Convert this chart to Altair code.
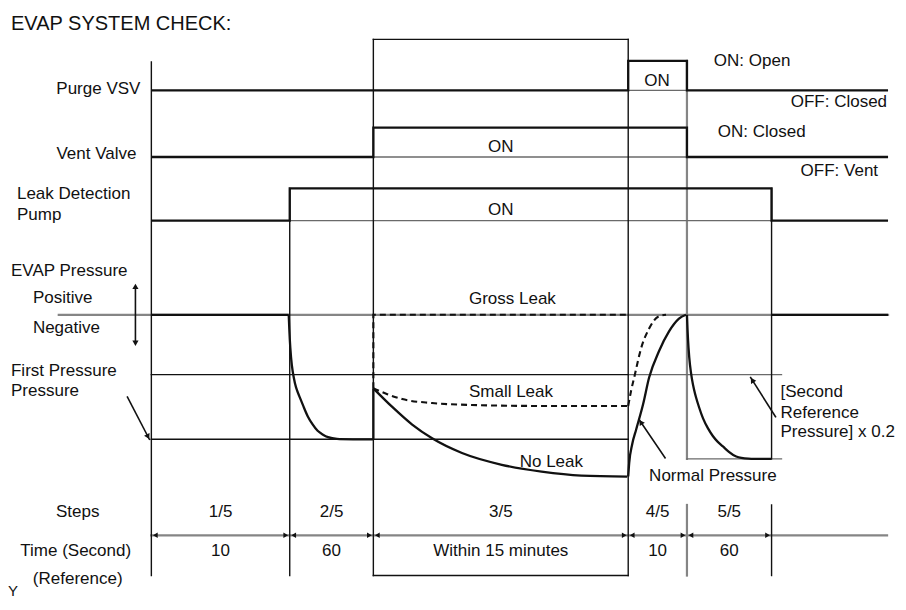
import math
import altair as alt
import pandas as pd

# ---------------- data (diagram units) ----------------
BOUNDS = [148, 287, 371, 627, 686, 771]          # step boundaries on the time axis
END_X = 888                                       # right end of the traces
STEP_LABELS = ["1/5", "2/5", "3/5", "4/5", "5/5"]
TIME_LABELS = ["10", "60", "Within 15 minutes", "10", "60"]

# on / off levels of the three actuator signals and their on-interval
PURGE_LEVELS = [87, 57]
PURGE_ON = [627, 686]
VENT_LEVELS = [155, 125]
VENT_ON = [371, 686]
PUMP_LEVELS = [220, 187]
PUMP_ON = [287, 771]

# pressure reference levels
P_ZERO = 316
P_REF_HI = 377
P_FIRST = 443
P_SECOND = 463

# pressure curves
PUMPDOWN_X = [286, 286.5, 287.5, 289, 291, 293, 297, 301, 305, 310, 315, 320, 325, 333, 350, 371]
PUMPDOWN_Y = [316, 330, 350, 368, 380, 390, 400, 410, 420, 428, 435, 438, 441, 443, 443, 443]
NOLEAK_X = [371, 390, 410, 430, 460, 500, 540, 580, 626]
NOLEAK_Y = [391, 410, 428, 442, 457, 469, 476, 480, 481]
SMALL_X = [371, 385, 400, 430, 470, 540, 626]
SMALL_Y = [391, 397, 402, 406, 408, 409, 409]
RISE_X = [627, 628, 631, 635, 642, 648, 658, 668, 678, 685]
RISE_Y = [481, 467, 448, 433, 407, 380, 353, 333, 320, 316]
SMALL_RISE_X = [627, 630, 633, 640, 648, 657, 665]
SMALL_RISE_Y = [409, 393, 380, 350, 330, 318, 316]
DROP_X = [686, 686.5, 687.5, 689, 691, 693, 695, 698, 702, 707, 712, 717, 722, 728, 735, 745, 771]
DROP_Y = [316, 330, 350, 368, 382, 392, 400, 410, 422, 432, 440, 446, 450, 456, 461, 463, 463]

# ---------------- layout ----------------
FONT = "Liberation Sans"
BLACK = "#111111"
GREY = "#858585"
TOP_BOX = 35
TOP_AXIS = 58
BOTTOM = 582
SEP_TOP = 510
ARROW_Y = 541
STEP_Y = 517.5
TIME_Y = 557

xs = alt.Scale(domain=[4, 898], nice=False, zero=False)
ys = alt.Scale(domain=[3, 609], nice=False, zero=False, reverse=True)
X = alt.X("x:Q", scale=xs, axis=None)
Y = alt.Y("y:Q", scale=ys, axis=None)


def rules(rows, color, width, dash=None):
    df = pd.DataFrame(rows, columns=["x", "y", "x2", "y2"])
    kw = dict(color=color, strokeWidth=width, strokeCap="square")
    if dash:
        kw["strokeDash"] = dash
        kw["strokeCap"] = "butt"
    return alt.Chart(df).mark_rule(**kw).encode(x=X, y=Y, x2="x2:Q", y2="y2:Q")


def path(px, py, color, width, interp="linear", dash=None):
    df = pd.DataFrame({"x": px, "y": py, "i": list(range(len(px)))})
    kw = dict(color=color, strokeWidth=width, interpolate=interp, strokeJoin="miter")
    if dash:
        kw["strokeDash"] = dash
    return alt.Chart(df).mark_line(**kw).encode(x=X, y=Y, order="i:Q")


def texts(rows, align, size=17, color=BLACK):
    df = pd.DataFrame(rows, columns=["x", "y", "t"])
    return alt.Chart(df).mark_text(
        align=align, baseline="middle", fontSize=size, font=FONT, color=color
    ).encode(x=X, y=Y, text="t:N")


def heads(rows, size=38):
    # rows: (tip_x, tip_y, from_x, from_y)
    out = []
    for tx, ty, fx, fy in rows:
        dx, dy = tx - fx, ty - fy
        d = math.hypot(dx, dy)
        ux, uy = dx / d, dy / d
        ang = math.degrees(math.atan2(dx, -dy)) % 360
        out.append({"x": tx - 3 * ux, "y": ty - 3 * uy, "a": ang})
    df = pd.DataFrame(out)
    return alt.Chart(df).mark_point(
        shape="triangle-up", filled=True, size=size, color=BLACK, opacity=1, strokeWidth=0
    ).encode(x=X, y=Y, angle=alt.Angle("a:Q", scale=None))


def signal(levels, on):
    lo, hi = levels
    a, b = on
    return path([BOUNDS[0], a, a, b, b, END_X], [lo, lo, hi, hi, lo, lo], BLACK, 2.3)


layers = []

# grey background lines
layers.append(rules([
    (55, P_ZERO, END_X, P_ZERO),
    (BOUNDS[4], PURGE_LEVELS[1], BOUNDS[4], P_SECOND),
    (BOUNDS[4], SEP_TOP, BOUNDS[4], BOTTOM),
    (BOUNDS[0], ARROW_Y, END_X - 1, ARROW_Y),
], GREY, 2.2))
layers.append(rules([
    (PURGE_ON[0], PURGE_LEVELS[0], PURGE_ON[1], PURGE_LEVELS[0]),
    (VENT_ON[0], VENT_LEVELS[0], VENT_ON[1], VENT_LEVELS[0]),
    (PUMP_ON[0], PUMP_LEVELS[0], PUMP_ON[1], PUMP_LEVELS[0]),
    (BOUNDS[3], P_REF_HI, 781, P_REF_HI),
    (BOUNDS[4], P_SECOND, 781, P_SECOND),
], "#6a6a6a", 1.3))

# thin black frame lines
layers.append(rules([
    (BOUNDS[0], TOP_AXIS, BOUNDS[0], BOTTOM),
    (BOUNDS[2], TOP_BOX, BOUNDS[3], TOP_BOX),
    (BOUNDS[2], TOP_BOX, BOUNDS[2], BOTTOM),
    (BOUNDS[3], TOP_BOX, BOUNDS[3], BOTTOM),
    (BOUNDS[2], BOTTOM, BOUNDS[3], BOTTOM),
    (BOUNDS[1], PUMP_LEVELS[1], BOUNDS[1], BOTTOM),
    (BOUNDS[5], PUMP_LEVELS[1], BOUNDS[5], P_SECOND),
    (BOUNDS[5], SEP_TOP, BOUNDS[5], BOTTOM),
    (BOUNDS[0], P_REF_HI, BOUNDS[3], P_REF_HI),
    (BOUNDS[0], P_FIRST, BOUNDS[3], P_FIRST),
], BLACK, 1.4))

# actuator signals
layers.append(signal(PURGE_LEVELS, PURGE_ON))
layers.append(signal(VENT_LEVELS, VENT_ON))
layers.append(signal(PUMP_LEVELS, PUMP_ON))

# pressure, solid
layers.append(path([BOUNDS[0], PUMPDOWN_X[0]], [P_ZERO, P_ZERO], BLACK, 2.3))
layers.append(path(PUMPDOWN_X, PUMPDOWN_Y, BLACK, 2.3, "basis"))
layers.append(path([BOUNDS[2], BOUNDS[2]], [P_FIRST, NOLEAK_Y[0]], BLACK, 2.3))
layers.append(path(NOLEAK_X, NOLEAK_Y, BLACK, 2.3, "monotone"))
layers.append(path(RISE_X, RISE_Y, BLACK, 2.3, "monotone"))
layers.append(path(DROP_X, DROP_Y, BLACK, 2.3, "basis"))
layers.append(path([BOUNDS[5], END_X], [P_ZERO, P_ZERO], BLACK, 2.3))

# pressure, dashed
layers.append(path([BOUNDS[2], BOUNDS[2], BOUNDS[3]], [SMALL_Y[0], P_ZERO, P_ZERO], BLACK, 2.1, dash=[6, 4]))
layers.append(path(SMALL_X, SMALL_Y, BLACK, 2.1, "monotone", dash=[6, 4]))
layers.append(path(SMALL_RISE_X, SMALL_RISE_Y, BLACK, 2.1, "monotone", dash=[6, 4]))

# annotation arrows
arrows = [(124, 400, 146, 443), (664, 462, 638, 423), (775, 420, 750, 380)]
layers.append(rules([(a, b, c, d) for a, b, c, d in arrows] + [(132, 288, 132, 344)], BLACK, 1.6))
layers.append(heads([(c, d, a, b) for a, b, c, d in arrows] +
                    [(132, 284, 132, 300), (132, 348, 132, 330)]))

# step arrows
step_heads = []
for i in range(len(STEP_LABELS)):
    a, b = BOUNDS[i], BOUNDS[i + 1]
    step_heads.append((b - 1, ARROW_Y, a, ARROW_Y))
    step_heads.append((a + 1, ARROW_Y, b, ARROW_Y))
layers.append(heads(step_heads, size=30))

# texts
centers = [(BOUNDS[i] + BOUNDS[i + 1]) / 2 for i in range(len(STEP_LABELS))]
layers.append(texts([(c, STEP_Y, s) for c, s in zip(centers, STEP_LABELS)] +
                    [(c, TIME_Y, s) for c, s in zip(centers, TIME_LABELS)] +
                    [(74, STEP_Y, "Steps"), (72, TIME_Y, "Time (Second)"), (74, 586, "(Reference)"),
                     (656, 77, "ON"), (499, 145, "ON"), (499, 209, "ON")], "center"))
layers.append(texts([(137, 86, "Purge VSV"), (133, 152, "Vent Valve"),
                     (887, 99, "OFF: Closed"), (878, 169, "OFF: Vent")], "right"))
layers.append(texts([(13, 193, "Leak Detection"), (13, 214, "Pump"),
                     (7, 271, "EVAP Pressure"), (29, 298.5, "Positive"), (29, 329, "Negative"),
                     (7, 373, "First Pressure"), (7, 394, "Pressure"),
                     (713, 57, "ON: Open"), (717, 129.5, "ON: Closed"),
                     (467, 300, "Gross Leak"), (467, 395, "Small Leak"), (518, 466, "No Leak"),
                     (648, 480, "Normal Pressure"),
                     (780, 394.5, "[Second"), (780, 416, "Reference"), (780, 436, "Pressure] x 0.2")],
                    "left"))
layers.append(texts([(4, 598, "Y")], "left", size=15))
layers.append(texts([(7, 19, "EVAP SYSTEM CHECK:")], "left", size=20))

chart = alt.layer(*layers).properties(
    width=890, height=594, padding=0, autosize="none", background="white"
).configure_view(strokeWidth=0)

chart.save("out.html", embed_options={"renderer": "svg", "actions": False})
